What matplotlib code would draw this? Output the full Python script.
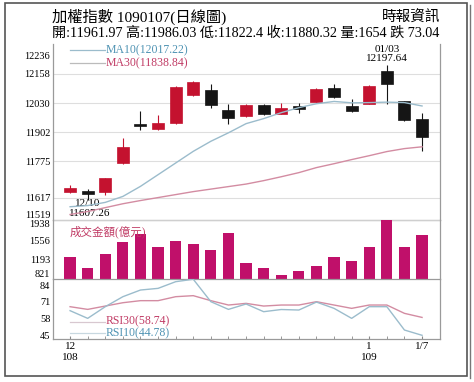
import numpy as np
import matplotlib.pyplot as plt
from matplotlib.patches import Rectangle
from matplotlib.lines import Line2D

plt.rcParams['font.family'] = ['Liberation Serif', 'Noto Sans CJK TC']

# daily candles 108/12/09 .. 109/01/07
opens = [11640, 11647, 11640, 11768, 11940, 11917, 11943, 12064, 12086, 12000, 11974,
         12023, 11984, 12017, 12036, 12096, 12016, 12027, 12169, 12037, 11961.97]
closes = [11659, 11634, 11701, 11838, 11930, 11943, 12099, 12122, 12020, 11963, 12020,
          11981, 12007, 12003, 12093, 12057, 11997, 12103, 12113, 11957, 11880.32]
highs = [11673, 11655, 11704, 11878, 11994, 11979, 12104, 12126, 12114, 12026, 12024,
         12026, 12030, 12030, 12097, 12115, 12048, 12107, 12197.64, 12041, 11986.03]
lows = [11636, 11607.26, 11628, 11765, 11914, 11914, 11940, 12060, 12009, 11939, 11970,
        11978, 11980, 11987, 12033, 12054, 11993, 12024, 12027, 11953, 11822.4]
ma10 = [11577, 11582, 11596, 11622, 11666, 11717, 11768, 11819, 11863, 11900, 11940,
        11962, 11988, 12010, 12027, 12037, 12031, 12032, 12034, 12032, 12017.22]
ma30 = [11543, 11556, 11573, 11590, 11604, 11617, 11630, 11643, 11654, 11665, 11676,
        11691, 11708, 11726, 11748, 11765, 11783, 11800, 11818, 11831, 11838.84]
volume = [1232, 1024, 1289, 1527, 1673, 1427, 1546, 1489, 1370, 1697, 1130,
          1024, 897, 978, 1073, 1243, 1167, 1421, 1938, 1421, 1654]
rsi30 = [67.1, 65.0, 67.6, 70.2, 71.8, 71.8, 74.9, 75.7, 71.8, 68.4, 69.7,
         67.6, 68.4, 68.4, 71.0, 68.4, 65.8, 68.4, 68.4, 61.9, 58.74]
rsi10 = [64.0, 58.0, 67.1, 74.9, 80.1, 81.4, 86.6, 88.5, 71.0, 65.0, 69.2,
         63.2, 64.9, 64.5, 70.7, 65.8, 58.0, 67.1, 67.1, 48.9, 44.78]

price_ticks = [12236, 12158, 12030, 11902, 11775, 11617, 11519]
vol_ticks = [1938, 1556, 1193, 821]
rsi_ticks = [84, 71, 58, 45]
x_ticks = [0, 17, 20]
x_labels = ['12\n108', '1\n109', '1/7']

RED = '#c4122f'
BLK = '#151515'
MAG = '#c0106a'
C_MA10 = '#9bbccc'
C_MA30 = '#d38ca2'
T_BLUE = '#4f93b3'
T_PINK = '#c03a64'
SPINE = '#9a9a9a'

W, H = 474, 382
fig = plt.figure(figsize=(W / 100, H / 100), dpi=100)

def box(x0, y0, x1, y1):
    return [x0 / W, 1 - y1 / H, (x1 - x0) / W, (y1 - y0) / H]

ax1 = fig.add_axes(box(53, 44, 440, 220))
ax2 = fig.add_axes(box(53, 220, 440, 279), sharex=ax1)
ax3 = fig.add_axes(box(53, 279, 440, 339), sharex=ax1)

x = np.arange(len(opens))
o = np.array(opens); c = np.array(closes)
up = c >= o
cols = np.where(up, RED, BLK)

# price panel
ax1.vlines(x, lows, highs, colors=cols, lw=0.8, zorder=2)
body = np.maximum(np.abs(c - o), 3)
ax1.bar(x, body, bottom=np.minimum(o, c), width=0.68, color=cols,
        edgecolor=cols, lw=0.5, zorder=3)
ax1.plot(x, ma10, color=C_MA10, lw=1.0, zorder=4)
ax1.plot(x, ma30, color=C_MA30, lw=1.0, zorder=4)
ax1.set_ylim(11519, 12288)
ax1.set_xlim(-0.97, 21.02)
ax1.set_yticks(price_ticks)
ax1.hlines(price_ticks[1:-1], -0.97, 21.02, colors='#dedede', lw=0.8, zorder=0)

ax1.text(18, 12207, '01/03\n12197.64', ha='center', va='bottom', fontsize=8,
         linespacing=0.95)
ax1.text(0.3, 11590, '12/10', ha='left', va='center', fontsize=8)
ax1.text(-0.05, 11547, '11607.26', ha='left', va='center', fontsize=8)

# volume panel
ax2.bar(x, volume, width=0.64, color=MAG, zorder=2)
ax2.set_ylim(821, 1938)
ax2.set_yticks(vol_ticks)
ax2.axhline(1938, color='#cfcfcf', lw=0.8, zorder=0)
ax2.text(0.043, 0.80, '成交金額(億元)', transform=ax2.transAxes, color=T_PINK,
         fontsize=8.3, va='center')

# RSI panel
ax3.plot(x, rsi30, color=C_MA30, lw=1.0)
ax3.plot(x, rsi10, color=C_MA10, lw=1.0)
ax3.set_ylim(41.9, 88.7)
ax3.set_yticks(rsi_ticks)
ax3.set_xticks(x_ticks)
ax3.set_xticklabels(x_labels, fontsize=8, linespacing=1.25)
ax3.set_xticks(x, minor=True)
ax3.tick_params(axis='x', which='both', direction='in', length=2, color='#888888', pad=2)

for ax in (ax1, ax2, ax3):
    ax.tick_params(axis='y', length=0, labelsize=7.5, pad=2)
    ax.spines['top'].set_visible(False)
    for s in ('left', 'right', 'bottom'):
        ax.spines[s].set_color(SPINE)
        ax.spines[s].set_linewidth(0.9)
    ax.set_facecolor('none')
for ax in (ax1, ax2):
    ax.tick_params(axis='x', which='both', bottom=False, labelbottom=False)

ax1.get_yticklabels()[-1].set_va('bottom')
ax2.get_yticklabels()[0].set_va('top')
ax2.get_yticklabels()[-1].set_va('bottom')

# legends drawn as short segments + coloured text
def legend_item(ax, y, lcol, label, tcol):
    ax.add_line(Line2D([0.045, 0.135], [y, y], transform=ax.transAxes,
                       color=lcol, lw=0.9))
    ax.text(0.135, y, label, transform=ax.transAxes, color=tcol,
            fontsize=8.5, va='center')

legend_item(ax1, 0.965, C_MA10, 'MA10(12017.22)', T_BLUE)
legend_item(ax1, 0.89, '#bbbbbb', 'MA30(11838.84)', T_PINK)
legend_item(ax3, 0.29, '#d8c8d0', 'RSI30(58.74)', T_PINK)
legend_item(ax3, 0.10, '#c8d8e0', 'RSI10(44.78)', T_BLUE)

# header
fig.text(52 / W, 1 - 17 / H, '加權指數 1090107(日線圖)', fontsize=11, va='center')
fig.text(440 / W, 1 - 18 / H, '時報資訊', fontsize=10.5, va='center', ha='right')
fig.text(52 / W, 1 - 33 / H,
         '開:11961.97 高:11986.03 低:11822.4 收:11880.32 量:1654 跌 73.04',
         fontsize=10.2, va='center')

# outer frame
fig.patches.append(Rectangle((5 / W, 1 - 376 / H), 462 / W, 373 / H,
                             transform=fig.transFigure, fill=False,
                             edgecolor='#555555', lw=1.2))
fig.lines.append(Line2D([470 / W, 470 / W], [1 - 378 / H, 1 - 5 / H],
                        transform=fig.transFigure, color='#777777', lw=1.0))

fig.savefig('out.png', dpi=100)
